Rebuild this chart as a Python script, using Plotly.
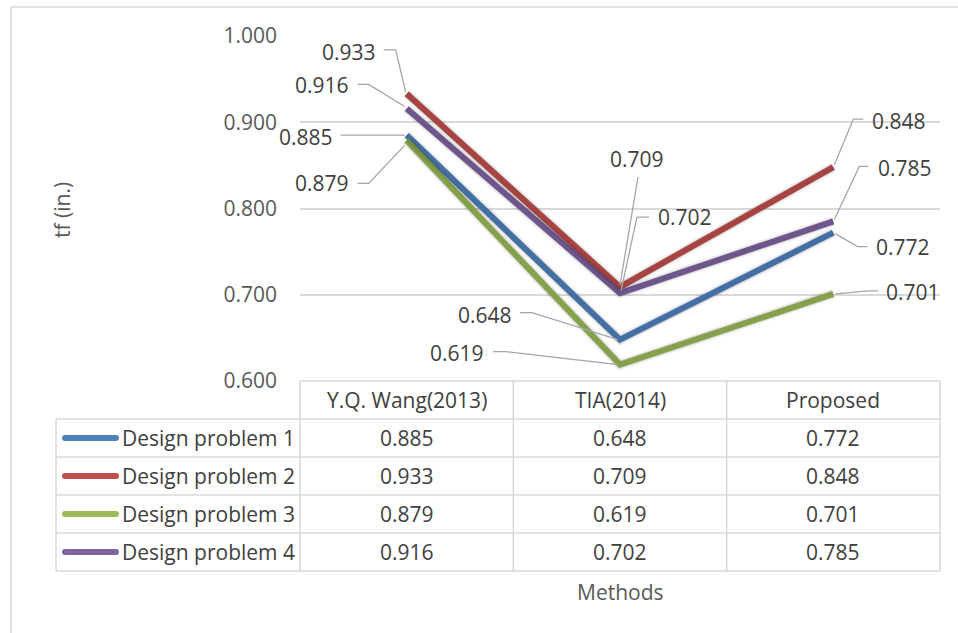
import plotly.graph_objects as go

# ---------------- data ----------------
categories = ["Y.Q. Wang(2013)", "TIA(2014)", "Proposed"]
series_names = ["Design problem 1", "Design problem 2", "Design problem 3", "Design problem 4"]
dp1 = [0.885, 0.648, 0.772]
dp2 = [0.933, 0.709, 0.848]
dp3 = [0.879, 0.619, 0.701]
dp4 = [0.916, 0.702, 0.785]
series_values = [dp1, dp2, dp3, dp4]
y_ticks = [0.6, 0.7, 0.8, 0.9, 1.0]
y_title = "tf (in.)"
x_title = "Methods"

# ---------------- style ----------------
W, H = 958, 633
colors = ["#4F81BD", "#C0504D", "#9BBB59", "#8064A2"]
FONT = "Open Sans"
FS = 21
TXT = "#404040"
TICK = "#595959"
GRID = "#D9D9D9"
PX0, PX1 = 300, 940          # plot area left/right (px)
PY0, PY1 = 36, 381           # plot area top/bottom (px)
TABLE_LEFT = 56
HEADER_TOP = 381
ROW_H = 38


def px(x):
    return x / W


def py(y):
    return 1 - y / H


xs = list(range(len(categories)))

# label offsets (screen px, dy down) and leader paths (screen px offsets from point)
label_offsets = [
    [(-101, 2), (-135, -25), (70, 14)],
    [(-58, -42), (17, -128), (66, -46)],
    [(-85, 43), (-163, -12), (80, -2)],
    [(-85, -23), (65, -76), (72, -53)],
]
leaders = [
    [[(-66, 0), (-2, 0)], [(-100, -27), (-88, -27), (-2, 0)], [(34, 14), (24, 14), (2, 1)]],
    [[(-23, -44), (-11, -44), (-1, -2)], [(18, -110), (0, -2)], [(30, -48), (20, -48), (1, -2)]],
    [[(-49, 43), (-38, 43), (-2, 5)], [(-127, -13), (-115, -13), (-2, 0)], [(45, -3), (35, -3), (2, 0)]],
    [[(-49, -24), (-38, -24), (-2, -2)], [(29, -76), (17, -76), (1, -2)], [(35, -55), (26, -55), (1, -2)]],
]

fig = go.Figure()

# soft shadows (on an axis pair shifted a few pixels down/right)
for vals in series_values:
    for w, a in ((11, 0.05), (8, 0.09)):
        fig.add_trace(go.Scatter(
            x=xs, y=vals, mode="lines", xaxis="x2", yaxis="y2",
            line=dict(color=f"rgba(0,0,0,{a})", width=w), hoverinfo="skip", showlegend=False))

for name, vals, c in zip(series_names, series_values, colors):
    fig.add_trace(go.Scatter(
        x=xs, y=vals, mode="lines", name=name,
        line=dict(color=c, width=6), showlegend=False))

shapes = []
annotations = []

# leader lines + data labels
for si, vals in enumerate(series_values):
    for ci, v in enumerate(vals):
        pts = leaders[si][ci]
        path = "M " + " L ".join(f"{dx},{-dy}" for dx, dy in pts)
        shapes.append(dict(type="path", xref="x", yref="y", xsizemode="pixel", ysizemode="pixel",
                           xanchor=xs[ci], yanchor=v, path=path,
                           line=dict(color="#A6A6A6", width=1.3)))
        dx, dy = label_offsets[si][ci]
        annotations.append(dict(xref="x", yref="y", x=xs[ci], y=v, xshift=dx, yshift=-dy,
                                text=f"{v:.3f}", showarrow=False,
                                font=dict(family=FONT, size=FS, color=TXT)))

# data table
col_w = (PX1 - PX0) / len(categories)
n_rows = len(series_names)
table_bottom = HEADER_TOP + ROW_H * (n_rows + 1)
line_style = dict(color=GRID, width=1.5)
shapes.append(dict(type="line", xref="paper", yref="paper", x0=px(PX0), x1=px(PX1),
                   y0=py(HEADER_TOP), y1=py(HEADER_TOP), line=line_style))
for r in range(1, n_rows + 2):
    yy = HEADER_TOP + ROW_H * r
    shapes.append(dict(type="line", xref="paper", yref="paper", x0=px(TABLE_LEFT), x1=px(PX1),
                       y0=py(yy), y1=py(yy), line=line_style))
for k in range(len(categories) + 1):
    xx = PX0 + col_w * k
    shapes.append(dict(type="line", xref="paper", yref="paper", x0=px(xx), x1=px(xx),
                       y0=py(HEADER_TOP), y1=py(table_bottom), line=line_style))
shapes.append(dict(type="line", xref="paper", yref="paper", x0=px(TABLE_LEFT), x1=px(TABLE_LEFT),
                   y0=py(HEADER_TOP + ROW_H), y1=py(table_bottom), line=line_style))

for ci, cat in enumerate(categories):
    annotations.append(dict(xref="x", yref="paper", x=xs[ci], y=py(HEADER_TOP + ROW_H / 2),
                            text=cat, showarrow=False, yanchor="middle",
                            font=dict(family=FONT, size=FS, color=TXT)))
for si, (name, vals, c) in enumerate(zip(series_names, series_values, colors)):
    yc = HEADER_TOP + ROW_H * (si + 1) + ROW_H / 2
    shapes.append(dict(type="line", xref="paper", yref="paper", x0=px(65), x1=px(116),
                       y0=py(yc), y1=py(yc), line=dict(color=c, width=6)))
    for ex in (65, 116):
        shapes.append(dict(type="circle", xref="paper", yref="paper", xsizemode="pixel",
                           ysizemode="pixel", xanchor=px(ex), yanchor=py(yc),
                           x0=-3, x1=3, y0=-3, y1=3, fillcolor=c, line=dict(width=0)))
    annotations.append(dict(xref="paper", yref="paper", x=px(120), y=py(yc), text=name,
                            showarrow=False, xanchor="left", yanchor="middle",
                            font=dict(family=FONT, size=FS, color=TXT)))
    for ci, v in enumerate(vals):
        annotations.append(dict(xref="x", yref="paper", x=xs[ci], y=py(yc), text=f"{v:.3f}",
                                showarrow=False, yanchor="middle",
                                font=dict(family=FONT, size=FS, color=TXT)))

annotations.append(dict(xref="paper", yref="paper", x=px(62), y=py(210), text=y_title,
                        textangle=-90, showarrow=False, xanchor="center", yanchor="middle",
                        font=dict(family=FONT, size=FS, color=TICK)))
annotations.append(dict(xref="x", yref="paper", x=xs[1], y=py(592), text=x_title,
                        showarrow=False, yanchor="middle",
                        font=dict(family=FONT, size=FS, color=TICK)))

# outer chart border
shapes.append(dict(type="line", xref="paper", yref="paper", x0=px(11), x1=px(958),
                   y0=py(7), y1=py(7), line=dict(color="#D9D9D9", width=1.5), layer="below"))
shapes.append(dict(type="line", xref="paper", yref="paper", x0=px(11), x1=px(11),
                   y0=py(7), y1=py(633), line=dict(color="#D9D9D9", width=1.5), layer="below"))

SH_X, SH_Y = 2, 4
fig.update_layout(
    width=W, height=H, autosize=False,
    margin=dict(l=0, r=0, t=0, b=0, pad=0),
    paper_bgcolor="white", plot_bgcolor="white",
    xaxis=dict(domain=[px(PX0), px(PX1)], range=[-0.5, len(categories) - 0.5], automargin=False,
               showticklabels=False, showgrid=False, zeroline=False, ticks="", showline=False),
    yaxis=dict(domain=[py(PY1), py(PY0)], range=[y_ticks[0], y_ticks[-1]], automargin=False,
               tickvals=y_ticks, tickformat=".3f", showgrid=True, gridcolor=GRID, gridwidth=1.5,
               zeroline=False, ticks="", ticklabelstandoff=22, showline=False,
               tickfont=dict(family=FONT, size=FS, color=TICK)),
    xaxis2=dict(domain=[px(PX0 + SH_X), px(PX1 + SH_X)], range=[-0.5, len(categories) - 0.5],
                overlaying="x", visible=False, anchor="y2", automargin=False),
    yaxis2=dict(domain=[py(PY1 + SH_Y), py(PY0 + SH_Y)], range=[y_ticks[0], y_ticks[-1]],
                overlaying="y", visible=False, anchor="x2", automargin=False),
    shapes=shapes, annotations=annotations, showlegend=False,
)

fig.write_html("out.html", config={"displayModeBar": False},
               post_script="document.body.style.margin='0';document.body.style.overflow='hidden';")
